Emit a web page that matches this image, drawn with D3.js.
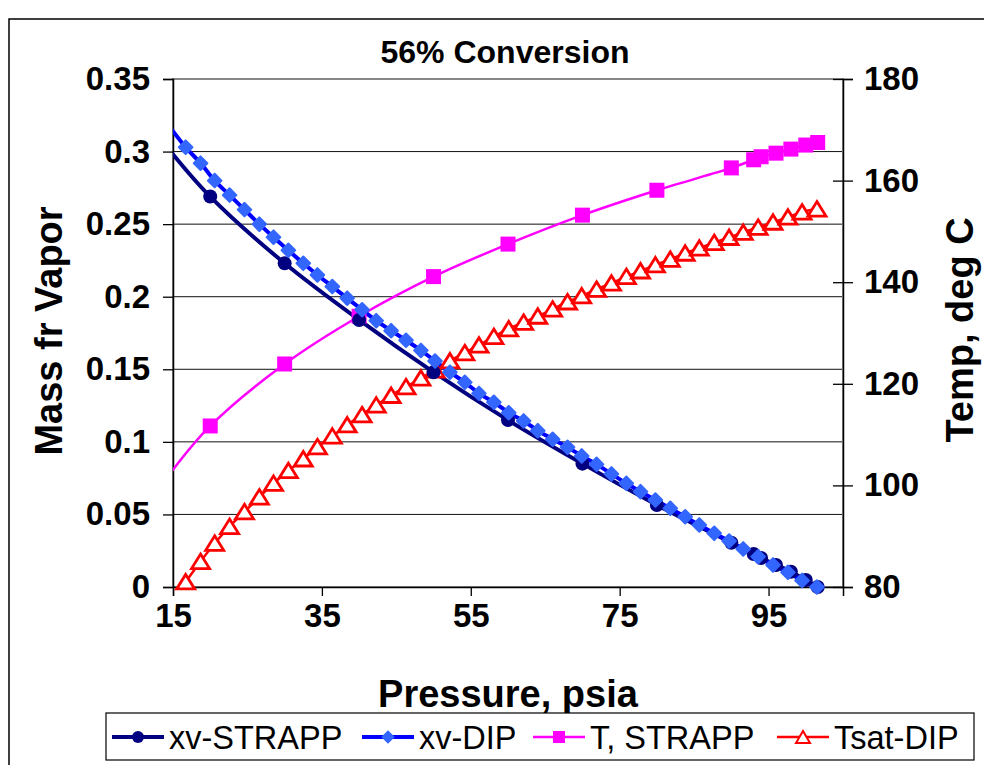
<!DOCTYPE html>
<html><head><meta charset="utf-8">
<script src="https://cdn.jsdelivr.net/npm/d3@7"></script>
<style>body{margin:0;background:#fff}svg{display:block}text{font-family:"Liberation Sans",Arial,sans-serif}</style>
</head><body>
<script>
// ---- data ----
const title = "56% Conversion";
const xTicks = [15, 35, 55, 75, 95];
const yLeftTicks = [0, 0.05, 0.1, 0.15, 0.2, 0.25, 0.3, 0.35];
const yRightTicks = [80, 100, 120, 140, 160, 180];

const pStrapp = [14.7, 20, 30, 40, 50, 60, 70, 80, 90, 93, 94, 96, 98, 100, 101.6];
const xvStrapp = [0.300, 0.269, 0.223, 0.184, 0.148, 0.115, 0.085, 0.0565, 0.0305, 0.0227, 0.0200, 0.0152, 0.0105, 0.0048, 0.0];
const tStrapp = [102.5, 111.7, 123.9, 133.3, 141.1, 147.5, 153.2, 158.1, 162.5, 164.1, 164.7, 165.4, 166.2, 167.0, 167.5];

const pDip = [14.7, 16.7, 18.7, 20.6, 22.6, 24.6, 26.6, 28.5, 30.5, 32.5, 34.4, 36.4, 38.4, 40.4, 42.3, 44.3, 46.3, 48.3, 50.2, 52.2, 54.2, 56.1, 58.1, 60.1, 62.1, 64.0, 66.0, 68.0, 69.9, 71.9, 73.9, 75.9, 77.8, 79.8, 81.8, 83.8, 85.7, 87.7, 89.7, 91.6, 93.6, 95.6, 97.6, 99.5, 101.5];
const xvDip = [0.316, 0.303, 0.292, 0.280, 0.270, 0.260, 0.250, 0.241, 0.232, 0.223, 0.215, 0.207, 0.199, 0.191, 0.1835, 0.1766, 0.170, 0.163, 0.1557, 0.148, 0.141, 0.1334, 0.1273, 0.1201, 0.1144, 0.1077, 0.1018, 0.0963, 0.0903, 0.0845, 0.0779, 0.0714, 0.0657, 0.0599, 0.0542, 0.0484, 0.0427, 0.0370, 0.0317, 0.0262, 0.0209, 0.0152, 0.0101, 0.0045, 0.0];
const tsatDip = [77.0, 81.0, 85.0, 88.6, 91.9, 94.8, 97.7, 100.4, 102.9, 105.2, 107.6, 109.7, 111.9, 113.9, 115.8, 117.7, 119.4, 121.1, 122.7, 124.5, 126.1, 127.6, 129.3, 130.8, 132.1, 133.3, 134.7, 136.1, 137.3, 138.6, 139.8, 141.1, 142.2, 143.4, 144.5, 145.7, 146.7, 147.8, 148.8, 149.8, 150.8, 151.8, 152.8, 153.8, 154.4];

const seriesNames = ["xv-STRAPP", "xv-DIP", "T, STRAPP", "Tsat-DIP"];

// ---- layout ----
const W = 984, H = 765;
const L = 173, R = 843, T = 79, B = 587;
const svg = d3.select("body").append("svg").attr("width", W).attr("height", H);

svg.append("rect").attr("x", 9).attr("y", 19).attr("width", 1000).attr("height", 800)
  .attr("fill", "#fff").attr("stroke", "#000").attr("stroke-width", 1.5);

const x = d3.scaleLinear().domain([15, 105]).range([L, R]);
const yL = d3.scaleLinear().domain([0, 0.35]).range([B, T]);
const yR = d3.scaleLinear().domain([80, 180]).range([B, T]);

// gridlines
svg.append("g").selectAll("line").data(yLeftTicks.filter(v => v > 0 && v < 0.35)).join("line")
  .attr("x1", L).attr("x2", R).attr("y1", d => yL(d)).attr("y2", d => yL(d))
  .attr("stroke", "#111").attr("stroke-width", 1);

// plot area border (gray)
svg.append("rect").attr("x", L).attr("y", T).attr("width", R - L).attr("height", B - T)
  .attr("fill", "none").attr("stroke", "#888").attr("stroke-width", 2);

// axes
const fontTick = "bold 33px 'Liberation Sans', Arial, sans-serif";
const axL = svg.append("g").attr("transform", `translate(${L},0)`)
  .call(d3.axisLeft(yL).tickValues(yLeftTicks).tickSize(10).tickPadding(13).tickFormat(d => d === 0 ? "0" : String(+d.toFixed(2))));
const axR = svg.append("g").attr("transform", `translate(${R},0)`)
  .call(d3.axisRight(yR).tickValues(yRightTicks).tickSize(10).tickPadding(11).tickFormat(d3.format("d")));
const axB = svg.append("g").attr("transform", `translate(0,${B})`)
  .call(d3.axisBottom(x).tickValues(xTicks).tickSize(9).tickPadding(8).tickFormat(d3.format("d")));
[axL, axR, axB].forEach(a => {
  a.select(".domain").attr("stroke", "#000").attr("stroke-width", 1.5);
  a.selectAll(".tick line").attr("stroke", "#000").attr("stroke-width", 1.3);
  a.selectAll("text").style("font", fontTick).attr("fill", "#000");
});
axR.selectAll(".tick line").attr("x1", -10);

// clip
svg.append("clipPath").attr("id", "plot").append("rect")
  .attr("x", L).attr("y", T).attr("width", R - L).attr("height", B - T);

const g = svg.append("g");
const gl = g.append("g").attr("clip-path", "url(#plot)");
const curve = d3.curveCatmullRom.alpha(0.5);

function drawLine(ps, vs, ys, color, width) {
  const pts = ps.map((p, i) => [p, vs[i]]);
  gl.append("path").datum(pts)
    .attr("d", d3.line().x(d => x(d[0])).y(d => ys(d[1])).curve(curve))
    .attr("fill", "none").attr("stroke", color).attr("stroke-width", width)
    .attr("stroke-linejoin", "round");
  return pts.filter(d => d[0] >= 15);
}

const triPath = "M0,-7.5 L9,7 L-9,7 Z";

// Tsat-DIP
const pts4 = drawLine(pDip, tsatDip, yR, "#ff0000", 2.5);
g.append("g").selectAll("path").data(pts4).join("path")
  .attr("d", triPath).attr("transform", d => `translate(${x(d[0])},${yR(d[1])})`)
  .attr("fill", "#fff").attr("stroke", "#ff0000").attr("stroke-width", 2.8);

// T STRAPP
const pts3 = drawLine(pStrapp, tStrapp, yR, "#ff00ff", 2.5);
g.append("g").selectAll("rect").data(pts3).join("rect")
  .attr("x", d => x(d[0]) - 7.5).attr("y", d => yR(d[1]) - 7.5).attr("width", 15).attr("height", 15)
  .attr("fill", "#ff00ff");

// xv-STRAPP
const pts1 = drawLine(pStrapp, xvStrapp, yL, "#000080", 4);
g.append("g").selectAll("circle").data(pts1).join("circle")
  .attr("cx", d => x(d[0])).attr("cy", d => yL(d[1])).attr("r", 7).attr("fill", "#000080");

// xv-DIP
const pts2 = drawLine(pDip, xvDip, yL, "#0000ff", 4);
g.append("g").selectAll("rect").data(pts2).join("rect")
  .attr("x", -5.8).attr("y", -5.8).attr("width", 11.6).attr("height", 11.6).attr("rx", 1)
  .attr("transform", d => `translate(${x(d[0])},${yL(d[1])}) rotate(45)`)
  .attr("fill", "#3366ff");

// titles
svg.append("text").attr("x", 505).attr("y", 63).attr("text-anchor", "middle")
  .style("font", "bold 32px 'Liberation Sans', Arial, sans-serif").text(title);
svg.append("text").attr("x", 508).attr("y", 707).attr("text-anchor", "middle")
  .style("font", "bold 38px 'Liberation Sans', Arial, sans-serif").text("Pressure, psia");
svg.append("text").attr("transform", "translate(62,331) rotate(-90)").attr("text-anchor", "middle")
  .style("font", "bold 38px 'Liberation Sans', Arial, sans-serif").text("Mass fr Vapor");
svg.append("text").attr("transform", "translate(973,330) rotate(-90)").attr("text-anchor", "middle")
  .style("font", "bold 38px 'Liberation Sans', Arial, sans-serif").text("Temp, deg C");

// legend
const lg = svg.append("g");
lg.append("rect").attr("x", 106).attr("y", 713).attr("width", 868).attr("height", 47)
  .attr("fill", "#fff").attr("stroke", "#000").attr("stroke-width", 1.2);
const legX = [112, 362, 533, 777];
const legColors = ["#000080", "#0000ff", "#ff00ff", "#ff0000"];
const legWidths = [4, 4, 2.5, 2.5];
const ly = 737;
seriesNames.forEach((name, i) => {
  const x0 = legX[i];
  lg.append("line").attr("x1", x0).attr("x2", x0 + 52).attr("y1", ly).attr("y2", ly)
    .attr("stroke", legColors[i]).attr("stroke-width", legWidths[i]);
  const cx = x0 + 26;
  if (i === 0) lg.append("circle").attr("cx", cx).attr("cy", ly).attr("r", 6).attr("fill", "#000080");
  if (i === 1) lg.append("rect").attr("x", -4.8).attr("y", -4.8).attr("width", 9.6).attr("height", 9.6)
    .attr("transform", `translate(${cx},${ly}) rotate(45)`).attr("fill", "#3366ff");
  if (i === 2) lg.append("rect").attr("x", cx - 6).attr("y", ly - 6).attr("width", 12).attr("height", 12).attr("fill", "#ff00ff");
  if (i === 3) lg.append("path").attr("d", "M0,-6 L7,6 L-7,6 Z").attr("transform", `translate(${cx},${ly})`)
    .attr("fill", "#fff").attr("stroke", "#ff0000").attr("stroke-width", 2);
  lg.append("text").attr("x", x0 + 57).attr("y", 749)
    .style("font", "32.5px 'Liberation Sans', Arial, sans-serif").text(name);
});
</script>
</body></html>
